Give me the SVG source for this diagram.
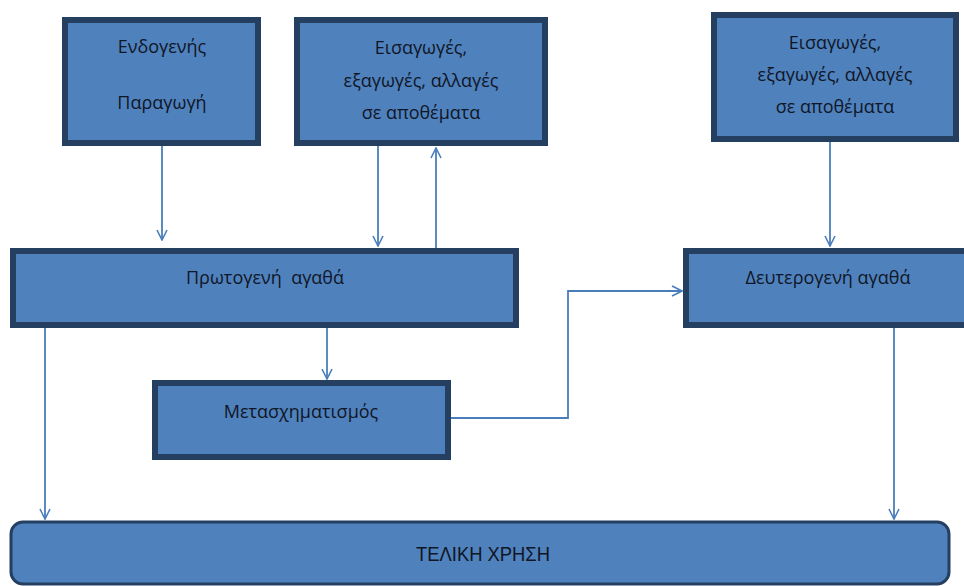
<svg xmlns="http://www.w3.org/2000/svg" width="964" height="586" viewBox="0 0 964 586">
  <style>
    .box { fill: #4F81BD; stroke: #243F60; stroke-width: 6; }
    .lbl { font-family: "Open Sans", "Liberation Sans", sans-serif; font-size: 18px; fill: #0f1626; text-anchor: middle; white-space: pre; }
    .cond { font-family: "Liberation Sans", "DejaVu Sans", sans-serif; font-size: 21px; fill: #0f1626; text-anchor: middle; }
    .conn { fill: none; stroke: #4A7EBB; stroke-width: 1.8; }
  </style>
  <defs>
    <marker id="arrow" viewBox="0 0 12 12" refX="11" refY="6" markerWidth="12" markerHeight="12" markerUnits="userSpaceOnUse" orient="auto">
      <polyline points="1,1 11,6 1,11" fill="none" stroke="#4A7EBB" stroke-width="1.6"/>
    </marker>
  </defs>

  <g id="connectors">
    <line class="conn" x1="162" y1="146" x2="162" y2="240" marker-end="url(#arrow)"/>
    <line class="conn" x1="378" y1="146" x2="378" y2="246" marker-end="url(#arrow)"/>
    <line class="conn" x1="436" y1="248" x2="436" y2="148" marker-end="url(#arrow)"/>
    <line class="conn" x1="830" y1="142" x2="830" y2="246" marker-end="url(#arrow)"/>
    <line class="conn" x1="45" y1="328" x2="45" y2="519" marker-end="url(#arrow)"/>
    <line class="conn" x1="327" y1="328" x2="327" y2="379" marker-end="url(#arrow)"/>
    <polyline class="conn" points="451,418 568,418 568,291 682,291" marker-end="url(#arrow)"/>
    <line class="conn" x1="894" y1="328" x2="894" y2="519" marker-end="url(#arrow)"/>
  </g>

  <g id="endogenous">
    <rect class="box" x="65" y="20" width="193" height="123"/>
    <text class="lbl" x="162" y="53">Ενδογενής</text>
    <text class="lbl" x="162" y="109">Παραγωγή</text>
  </g>

  <g id="trade-left">
    <rect class="box" x="297" y="20" width="248" height="123"/>
    <text class="lbl" x="421" y="54">Εισαγωγές,</text>
    <text class="lbl" x="421" y="87">εξαγωγές, αλλαγές</text>
    <text class="lbl" x="421" y="119">σε αποθέματα</text>
  </g>

  <g id="trade-right">
    <rect class="box" x="714" y="15" width="242" height="124"/>
    <text class="lbl" x="835" y="49">Εισαγωγές,</text>
    <text class="lbl" x="835" y="81">εξαγωγές, αλλαγές</text>
    <text class="lbl" x="835" y="113">σε αποθέματα</text>
  </g>

  <g id="primary">
    <rect class="box" x="13" y="251" width="503" height="74"/>
    <text class="lbl" x="265" y="284" xml:space="preserve">Πρωτογενή  αγαθά</text>
  </g>

  <g id="secondary">
    <rect class="box" x="686" y="251" width="282" height="74"/>
    <text class="lbl" x="828" y="284">Δευτερογενή αγαθά</text>
  </g>

  <g id="transformation">
    <rect class="box" x="155" y="383" width="293" height="74"/>
    <text class="lbl" x="301" y="418">Μετασχηματισμός</text>
  </g>

  <g id="final-use">
    <rect x="11" y="522" width="938" height="62" rx="12" ry="12" fill="#4F81BD" stroke="#243F60" stroke-width="3"/>
    <text class="cond" x="483" y="561" textLength="134" lengthAdjust="spacingAndGlyphs">ΤΕΛΙΚΗ ΧΡΗΣΗ</text>
  </g>
</svg>
